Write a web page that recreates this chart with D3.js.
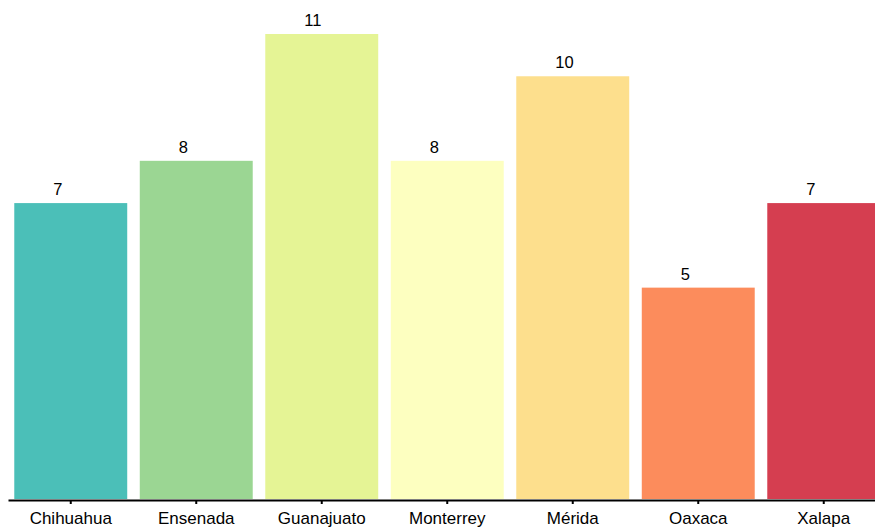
<!DOCTYPE html>
<html>
<head>
<meta charset="utf-8">
<script src="https://cdn.jsdelivr.net/npm/d3@7"></script>
<style>
  html, body { margin: 0; padding: 0; background: #fff; }
  svg { display: block; font-family: Helvetica, Arial, "Liberation Sans", sans-serif; }
</style>
</head>
<body>
<svg id="chart" width="875" height="529"></svg>
<script>
// Cities and their counts
const cities = ["Chihuahua", "Ensenada", "Guanajuato", "Monterrey", "Mérida", "Oaxaca", "Xalapa"];
const counts = [7, 8, 11, 8, 10, 5, 7];
const barColors = ["#4bbfb8", "#9bd693", "#e5f495", "#fdffc0", "#fddf8d", "#fc8c5c", "#d53e50"];

const data = cities.map((c, i) => ({ city: c, value: counts[i], color: barColors[i] }));

const svg = d3.select("#chart");
const baseline = 499;

const x = d3.scaleBand()
  .domain(cities)
  .range([8, 886.5])
  .paddingInner(0.1)
  .paddingOuter(0.05);

const y = d3.scaleLinear()
  .domain([0, 11])
  .range([baseline, 34]);

// Bars
svg.append("g")
  .selectAll("rect")
  .data(data)
  .join("rect")
  .attr("x", d => x(d.city))
  .attr("y", d => y(d.value))
  .attr("width", x.bandwidth())
  .attr("height", d => baseline - y(d.value))
  .attr("fill", d => d.color);

// Value labels above bars, left-aligned a little before the bar centre
svg.append("g")
  .selectAll("text")
  .data(data)
  .join("text")
  .attr("x", d => x(d.city) + x.bandwidth() / 2 - 17.5)
  .attr("y", d => y(d.value) - 8)
  .attr("text-anchor", "start")
  .attr("font-size", 16.5)
  .attr("fill", "#000")
  .text(d => d.value);

// Category axis
const axis = svg.append("g")
  .attr("transform", `translate(0,${baseline + 1})`)
  .call(d3.axisBottom(x).tickSizeOuter(0).tickSizeInner(4).tickPadding(8));

axis.select(".domain").attr("stroke", "#000").attr("stroke-width", 2);
axis.selectAll(".tick line").attr("stroke", "#000").attr("stroke-width", 2);
axis.selectAll(".tick text")
  .attr("font-size", 17)
  .attr("font-family", "Helvetica, Arial, 'Liberation Sans', sans-serif")
  .attr("fill", "#000");
</script>
</body>
</html>
